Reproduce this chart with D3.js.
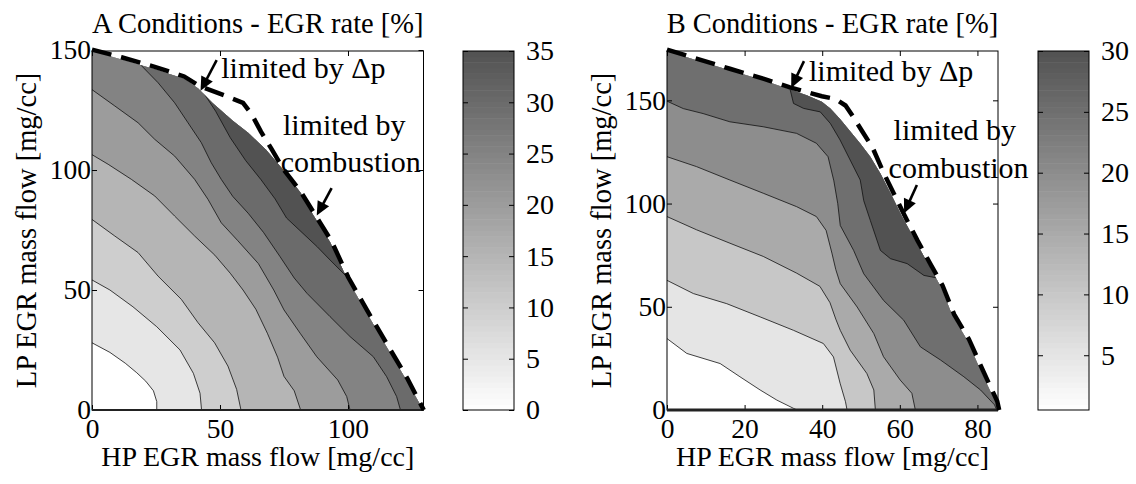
<!DOCTYPE html>
<html>
<head>
<meta charset="utf-8">
<script src="https://cdn.jsdelivr.net/npm/d3@7"></script>
<style>
  body { margin: 0; background: #fff; }
  text { font-family: "Liberation Serif", "Times New Roman", serif; fill: #000; }
</style>
</head>
<body>
<svg id="chart" width="1136" height="484"></svg>
<script>
// ---------- Panel A : A conditions (HP flow, LP flow) in mg/cc ----------
const levelsA = [5, 10, 15, 20, 25, 30, 35];
const xTicksA = [0, 50, 100];
const yTicksA = [0, 50, 100, 150];
const cTicksA = [0, 5, 10, 15, 20, 25, 30, 35];

// edge of the operable region (top right of the filled area)
const boundaryA = [[0,149.6],[11.5,146.1],[24.5,142],[36,138],[41.5,134],[47,128],[55,120.5],[61,115.5],[68,108.5],[74,101],[81.5,90.5],[86,82],[93,70],[99.5,55],[107,41],[115,26.5],[122.5,13],[129.4,0]];
const limitA = [[0,150.2],[11.5,147],[24.5,143],[36,139],[42,135],[52,131],[59,128],[62.5,123],[66,116],[70,109],[75,100],[81.5,91],[86.6,82.3],[93.6,70.3],[100.1,55.3],[107.6,41.3],[115.6,26.8],[123.1,13.3],[129.6,0]];

const cA05 = [[0,28],[7,24],[13,19.5],[17.5,15.5],[21,12],[24,8],[25.3,3.5],[25.3,0]];
const cA10 = [[0,54.2],[7,50],[16,43],[25.3,34.7],[34.4,25],[39.6,15.3],[42.2,7],[42.8,0]];
const cA15 = [[0,79.4],[8.9,72.5],[18,65.6],[25.8,55.8],[34.9,46.1],[41.4,36.4],[47.9,28],[53.1,18.3],[56.5,8.6],[58.2,0]];
const cA20 = [[0,106.4],[6.3,102.4],[15.4,96.1],[24.5,89.2],[32.3,80.8],[40.1,72.5],[48,64.5],[54,57],[59,50],[64,42],[68.5,32],[72.5,22],[75,14],[79,8],[81.5,0]];
const cA25 = [[0,133.5],[8.9,126.7],[18,119.7],[24.5,112.8],[32.3,105.8],[40.1,96.1],[45.3,87.8],[50.5,78],[57,70.5],[65,61],[71,50],[75,41.7],[81.3,32],[87.8,22.2],[96,12.5],[99.5,5.6],[100.8,0]];
const cA30 = [[17,146],[25.8,136.4],[32.3,128],[37.5,119.7],[42.7,111.4],[46.6,103],[50.5,96.1],[55,89],[61,82],[67,74],[73.4,64],[79,55],[84,48.6],[93,38.9],[100.8,30.6],[109.9,22.2],[115.1,13.9],[119,5.6],[120.5,0]];
const cA35 = [[40,138],[44,131.5],[48.3,124.5],[54,113.5],[60,104],[66,96],[71.5,88],[76,80],[82,74],[88,68],[93,62.5],[100,55]];
const contoursA = [cA05, cA10, cA15, cA20, cA25, cA30, cA35];

const notesA = [["limited by \u0394p", 50.5, 138.5], ["limited by", 74.6, 114.5], ["combustion", 73.7, 99.2]];
const arrowsA = [[[48.7,145.8],[42.4,133]], [[93.6,92.5],[87.8,81]]];

// ---------- Panel B : B conditions ----------
const levelsB = [5, 10, 15, 20, 25, 30];
const xTicksB = [0, 20, 40, 60, 80];
const yTicksB = [0, 50, 100, 150];
const cTicksB = [5, 10, 15, 20, 25, 30];

const boundaryB = [[0,173.9],[7.6,169.4],[16.2,164.6],[24.8,159.7],[31.7,155.3],[36,152.5],[39.9,149.3],[42.1,146.1],[44.6,141],[47.2,135],[49.8,129.1],[52.4,122.7],[55,114.6],[57.5,105.5],[60.5,94],[64,82],[67.5,70],[70.5,60],[73.5,46],[77.3,34],[80.8,19.3],[84.6,4],[85.1,0]];
const limitB = [[0,174.6],[8,170],[16.2,165.3],[25,160.4],[31.7,156.3],[39.9,152],[43.5,150.6],[46,147.5],[48,142],[50.3,135],[53,127],[55.8,115],[58.4,105],[61.2,94.3],[64.5,82.3],[68,70.3],[71,60.3],[74,46.3],[77.8,34.3],[81.3,19.6],[85.1,4.2],[85.6,0]];

const cB05 = [[0,34.6],[5.1,27.4],[13.7,22.5],[18.8,16.1],[24,9.7],[28.3,4.8],[32.6,0.8],[33.5,0]];
const cB10 = [[0,62.8],[6.8,56.4],[15.4,51.5],[24,45.1],[32.6,38.6],[40.3,32.2],[42.9,25.7],[44.6,13],[46,4],[46.4,0]];
const cB15 = [[0,93.7],[7.6,87.3],[16.2,80.8],[24.8,74.4],[33.4,66.3],[39.4,59.9],[42,52],[43.5,44],[44.65,38.6],[47.2,29],[51.5,17.7],[53.3,9.7],[53.7,0]];
const cB20 = [[0,122.7],[7.6,117.9],[16.2,111.4],[24.8,105],[33.4,98.5],[38.5,93.7],[41,87],[42.5,76],[43.5,68],[44.65,61.2],[49,49.9],[53.3,37],[55.8,25.8],[60.1,14.5],[63.1,8.1],[64,0]];
const cB25 = [[0,149.6],[4.2,146],[9.3,143.6],[16.2,139.6],[24.8,137.2],[33.4,134],[38.5,129.2],[41.5,122.7],[43,111],[44,100],[44.65,89.4],[48.1,77.3],[50.7,66],[55.8,53.1],[61,43.5],[65.3,30.6],[70.5,24.2],[76.5,16.1],[80.8,9.7],[84.4,2.5],[85.2,-1]];
const cB30 = [[31.5,157],[32.6,148.5],[35.2,146.1],[39.5,144.4],[42.1,138.8],[44.6,130.8],[47.2,121.1],[49.8,111.4],[50.7,101.4],[52.4,91.8],[55,77.3],[57.6,73.3],[61.9,70.9],[66.2,65.2],[69.5,64]];
const contoursB = [cB05, cB10, cB15, cB20, cB25, cB30];

const notesB = [["limited by \u0394p", 36.6, 159.5], ["limited by", 58.4, 131], ["combustion", 57.1, 112.5]];
const arrowsB = [[[35.3,169],[32,156]], [[64.4,109],[61.1,95.3]]];

const svg = d3.select("#chart");

function drawPanel(p) {
  const x = d3.scaleLinear().domain(p.xDomain).range([p.left, p.right]);
  const y = d3.scaleLinear().domain(p.yDomain).range([p.bottom, p.top]);
  const gray = d3.scaleLinear().domain(p.cDomain).range(["#ffffff", "#525252"]);
  const line = d3.line().x(d => x(d[0])).y(d => y(d[1]));
  const g = svg.append("g");

  // clip to the operable region
  const region = p.boundary.concat([[0, 0]]);
  g.append("clipPath").attr("id", "clip" + p.id)
    .append("path").attr("d", line(region) + "Z");
  const fills = g.append("g").attr("clip-path", `url(#clip${p.id})`);

  fills.append("path").attr("d", line(region) + "Z").attr("fill", gray(p.cDomain[0]));

  // each level fills everything above its contour line
  p.contours.forEach((c, i) => {
    const s = c[0], e = c[c.length - 1];
    const pts = c.map(d => [x(d[0]), y(d[1])]);
    if (e[1] <= 0) pts.push([x(e[0]), p.bottom + 20], [p.right + 80, p.bottom + 20]);
    pts.push([p.right + 80, p.top - 80], [x(s[0]), p.top - 80]);
    fills.append("path")
      .attr("d", "M" + pts.join("L") + "Z")
      .attr("fill", gray(p.levels[i]));
  });

  fills.selectAll(".contour")
    .data(p.contours)
    .join("path")
    .attr("class", "contour")
    .attr("d", line)
    .attr("fill", "none")
    .attr("stroke", "#111")
    .attr("stroke-width", 0.8);

  // axes box with inward ticks on all sides
  const fmt = d3.format("d");
  const xAxis = g.append("g").attr("transform", `translate(0,${p.bottom})`)
    .call(d3.axisBottom(x).tickValues(p.xTicks).tickSizeInner(-5).tickSizeOuter(0).tickPadding(8).tickFormat(fmt));
  const yAxis = g.append("g").attr("transform", `translate(${p.left},0)`)
    .call(d3.axisLeft(y).tickValues(p.yTicks).tickSizeInner(-5).tickSizeOuter(0).tickPadding(1).tickFormat(fmt));
  g.append("g").attr("transform", `translate(0,${p.top})`)
    .call(d3.axisTop(x).tickValues(p.xTicks).tickSizeInner(-5).tickSizeOuter(0).tickFormat(""));
  g.append("g").attr("transform", `translate(${p.right},0)`)
    .call(d3.axisRight(y).tickValues(p.yTicks).tickSizeInner(-5).tickSizeOuter(0).tickFormat(""));
  g.selectAll(".domain").remove();
  g.selectAll(".tick line").attr("stroke", "#000");
  [xAxis, yAxis].forEach(a => a.selectAll("text")
    .attr("font-family", '"Liberation Serif", serif').attr("font-size", 27.5).attr("fill", "#000"));

  g.append("rect")
    .attr("x", p.left).attr("y", p.top)
    .attr("width", p.right - p.left).attr("height", p.bottom - p.top)
    .attr("fill", "none").attr("stroke", "#000").attr("stroke-width", 1);
  g.append("line")
    .attr("x1", p.left).attr("x2", p.right).attr("y1", p.bottom).attr("y2", p.bottom)
    .attr("stroke", "#222").attr("stroke-width", p.bottomWidth);

  // limit line
  g.append("path")
    .attr("d", line(p.limit))
    .attr("fill", "none")
    .attr("stroke", "#000")
    .attr("stroke-width", 4.5)
    .attr("stroke-dasharray", "20,10");

  // annotations
  p.arrows.forEach(a => {
    const x0 = x(a[0][0]), y0 = y(a[0][1]), x1 = x(a[1][0]), y1 = y(a[1][1]);
    const len = Math.hypot(x1 - x0, y1 - y0), ux = (x1 - x0) / len, uy = (y1 - y0) / len;
    g.append("line")
      .attr("x1", x0).attr("y1", y0)
      .attr("x2", x1 - ux * 10).attr("y2", y1 - uy * 10)
      .attr("stroke", "#000").attr("stroke-width", 2.6);
    const bx = x1 - ux * 14, by = y1 - uy * 14;
    g.append("path")
      .attr("d", `M${x1},${y1}L${bx - uy * 6.5},${by + ux * 6.5}L${bx + uy * 6.5},${by - ux * 6.5}Z`)
      .attr("fill", "#000");
  });
  g.selectAll(".note")
    .data(p.notes)
    .join("text")
    .attr("class", "note")
    .attr("x", d => x(d[1]))
    .attr("y", d => y(d[2]))
    .attr("font-size", 30)
    .text(d => d[0]);

  // titles and labels
  const cx = (p.left + p.right) / 2;
  g.append("text").attr("x", cx).attr("y", 33).attr("text-anchor", "middle")
    .attr("font-size", 28.5).text(p.title);
  g.append("text").attr("x", cx).attr("y", 466).attr("text-anchor", "middle")
    .attr("font-size", 28).text("HP EGR mass flow [mg/cc]");
  g.append("text")
    .attr("transform", `translate(${p.left - 56},${(p.top + p.bottom) / 2}) rotate(-90)`)
    .attr("text-anchor", "middle").attr("font-size", 28.5)
    .text("LP EGR mass flow [mg/cc]");

  // colorbar
  const cy = d3.scaleLinear().domain(p.cDomain).range([p.bottom, p.top]);
  const steps = d3.range(64).map(i => p.cDomain[0] + (p.cDomain[1] - p.cDomain[0]) * i / 64);
  const dv = (p.cDomain[1] - p.cDomain[0]) / 64;
  g.selectAll(".cb")
    .data(steps)
    .join("rect")
    .attr("class", "cb")
    .attr("x", p.cbLeft)
    .attr("width", p.cbRight - p.cbLeft)
    .attr("y", d => cy(d + dv))
    .attr("height", d => cy(d) - cy(d + dv) + 0.5)
    .attr("fill", d => gray(d + dv / 2));
  const cAxis = g.append("g").attr("transform", `translate(${p.cbRight},0)`)
    .call(d3.axisRight(cy).tickValues(p.cTicks).tickSizeInner(-5).tickSizeOuter(0).tickPadding(12).tickFormat(fmt));
  g.append("g").attr("transform", `translate(${p.cbLeft},0)`)
    .call(d3.axisLeft(cy).tickValues(p.cTicks).tickSizeInner(-5).tickSizeOuter(0).tickFormat(""));
  g.selectAll(".domain").remove();
  g.selectAll(".tick line").attr("stroke", "#000");
  cAxis.selectAll("text")
    .attr("font-family", '"Liberation Serif", serif').attr("font-size", 28).attr("fill", "#000");
  g.append("rect")
    .attr("x", p.cbLeft).attr("y", p.top)
    .attr("width", p.cbRight - p.cbLeft).attr("height", p.bottom - p.top)
    .attr("fill", "none").attr("stroke", "#000").attr("stroke-width", 1);
}

drawPanel({
  id: "A", title: "A Conditions - EGR rate [%]",
  left: 92, right: 423.5, top: 51, bottom: 410, bottomWidth: 2,
  xDomain: [0, 129.5], yDomain: [0, 149.6], cDomain: [0, 35],
  xTicks: xTicksA, yTicks: yTicksA, cTicks: cTicksA,
  levels: levelsA, contours: contoursA, boundary: boundaryA, limit: limitA,
  notes: notesA, arrows: arrowsA, cbLeft: 463, cbRight: 514
});

drawPanel({
  id: "B", title: "B Conditions - EGR rate [%]",
  left: 667, right: 998, top: 51, bottom: 410, bottomWidth: 3,
  xDomain: [0, 85.3], yDomain: [0, 173.9], cDomain: [0.5, 30],
  xTicks: xTicksB, yTicks: yTicksB, cTicks: cTicksB,
  levels: levelsB, contours: contoursB, boundary: boundaryB, limit: limitB,
  notes: notesB, arrows: arrowsB, cbLeft: 1038, cbRight: 1089
});
</script>
</body>
</html>
